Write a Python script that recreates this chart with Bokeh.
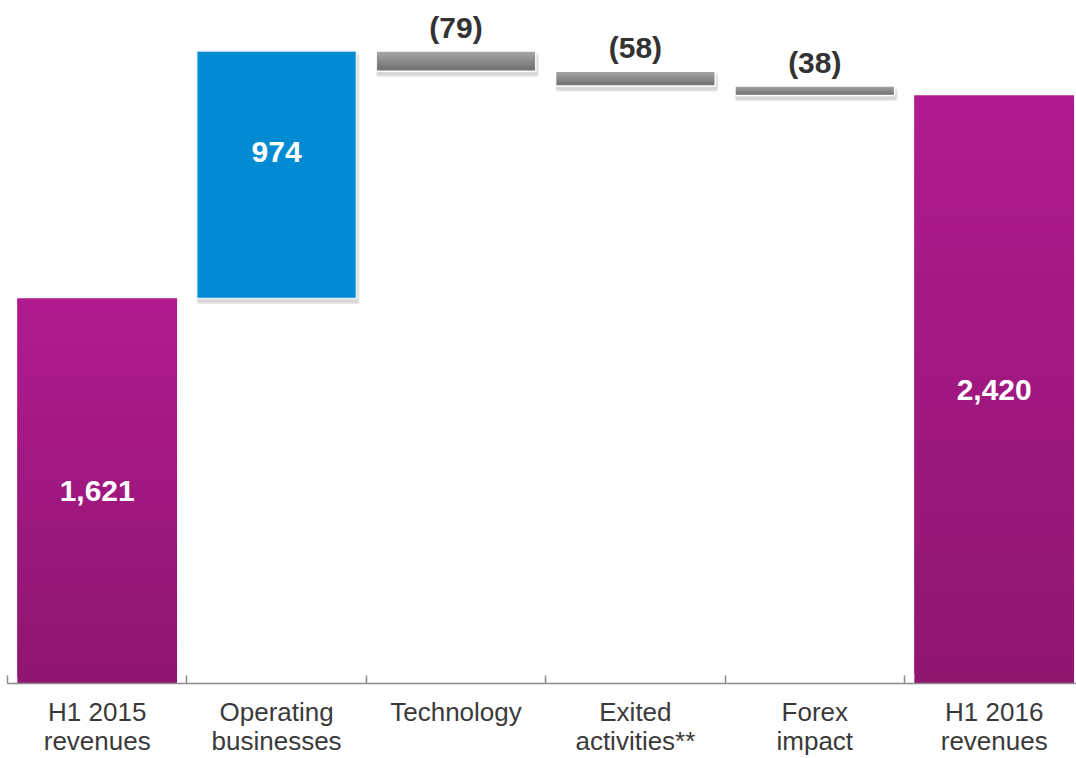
from bokeh.plotting import figure
from bokeh.models import ColumnDataSource, Range1d, FixedTicker
from bokeh.core.properties import value
from bokeh.embed import file_html
from bokeh.resources import INLINE

# ---- data ----
categories = ["H1 2015\nrevenues", "Operating\nbusinesses", "Technology",
              "Exited\nactivities**", "Forex\nimpact", "H1 2016\nrevenues"]
values = [1621, 974, -79, -58, -38, 2420]
kinds = ["total", "increase", "decrease", "decrease", "decrease", "total"]
value_labels = ["1,621", "974", "(79)", "(58)", "(38)", "2,420"]

Y_START, Y_END = 106, 2794
FRAME_H = 683
PX_PER_UNIT = FRAME_H / (Y_END - Y_START)

def hex2rgb(h):
    h = h.lstrip("#")
    return tuple(int(h[i:i + 2], 16) for i in (0, 2, 4))

def lerp(c1, c2, t):
    a, b = hex2rgb(c1), hex2rgb(c2)
    return "#%02x%02x%02x" % tuple(int(round(a[i] + (b[i] - a[i]) * t)) for i in range(3))

# running waterfall
bottoms, tops = [], []
running = 0
for v, k in zip(values, kinds):
    if k == "total":
        bottoms.append(0)
        tops.append(v)
        running = v
    else:
        lo, hi = sorted([running, running + v])
        bottoms.append(lo)
        tops.append(hi)
        running += v

centers = [i + 0.5 for i in range(len(categories))]
bar_w = 0.89

p = figure(width=1076, height=758, output_backend="svg", toolbar_location=None,
           x_range=Range1d(0, 1069 / 179.4), y_range=Range1d(Y_START, Y_END),
           min_border_left=7, min_border_right=0, min_border_top=0, min_border_bottom=758 - FRAME_H)
p.outline_line_color = None
p.xgrid.grid_line_color = None
p.ygrid.grid_line_color = None
p.yaxis.visible = False
p.background_fill_color = "white"
p.border_fill_color = "white"

shadow_dy = 4 / PX_PER_UNIT
shadow_dx = 0.008

# shadows for floating bars
sh = dict(left=[], right=[], top=[], bottom=[])
for c, b, t, k in zip(centers, bottoms, tops, kinds):
    if k != "total":
        sh["left"].append(c - bar_w / 2 + shadow_dx)
        sh["right"].append(c + bar_w / 2 + shadow_dx)
        sh["top"].append(t - shadow_dy)
        sh["bottom"].append(b - shadow_dy)
p.quad(source=ColumnDataSource(sh), left="left", right="right", top="top", bottom="bottom",
       fill_color="#bdbdbd", fill_alpha=0.6, line_color="#d5d5d5", line_width=3, line_alpha=0.6)

# gradient slices (overlapping so no seams show)
sl = dict(left=[], right=[], top=[], bottom=[], color=[])
for c, b, t, k in zip(centers, bottoms, tops, kinds):
    if k == "total":
        lo = max(b, Y_START)
        c_bot, c_top = "#901670", "#b01b8f"
        n = 60
    elif k == "decrease":
        lo = b
        c_bot, c_top = "#6c6c6c", "#a8a8a8"
        n = 12
    else:
        continue
    step = (t - lo) / n
    for j in range(n):
        sl["left"].append(c - bar_w / 2)
        sl["right"].append(c + bar_w / 2)
        sl["bottom"].append(lo + j * step)
        sl["top"].append(min(t, lo + (j + 2) * step))
        sl["color"].append(lerp(c_bot, c_top, (j + 0.5) / n))
p.quad(source=ColumnDataSource(sl), left="left", right="right", top="top", bottom="bottom",
       fill_color="color", line_color=None)

# blue increase bar
inc = dict(left=[], right=[], top=[], bottom=[])
for c, b, t, k in zip(centers, bottoms, tops, kinds):
    if k == "increase":
        inc["left"].append(c - bar_w / 2)
        inc["right"].append(c + bar_w / 2)
        inc["top"].append(t)
        inc["bottom"].append(b)
p.quad(source=ColumnDataSource(inc), left="left", right="right", top="top", bottom="bottom",
       fill_color="#008bd2", line_color="#e8f3fa", line_width=1.5)

# white borders for decrease bars
dec = dict(left=[], right=[], top=[], bottom=[])
for c, b, t, k in zip(centers, bottoms, tops, kinds):
    if k == "decrease":
        dec["left"].append(c - bar_w / 2)
        dec["right"].append(c + bar_w / 2)
        dec["top"].append(t)
        dec["bottom"].append(b)
p.quad(source=ColumnDataSource(dec), left="left", right="right", top="top", bottom="bottom",
       fill_color=None, line_color="white", line_width=1.5)

# value labels
inside = dict(x=[], y=[], text=[], yoff=[])
above = dict(x=[], y=[], text=[])
for c, b, t, k, lab in zip(centers, bottoms, tops, kinds, value_labels):
    if k == "decrease":
        above["x"].append(c)
        above["y"].append(t)
        above["text"].append(lab)
    else:
        lo = max(b, Y_START)
        inside["x"].append(c)
        inside["y"].append((lo + t) / 2)
        inside["text"].append(lab)
        inside["yoff"].append(-23 if k == "increase" else 0)
p.text(source=ColumnDataSource(inside), x="x", y="y", text="text", y_offset="yoff",
       text_font=value("Liberation Sans"), text_font_style="bold", text_font_size="30px",
       text_color="white", text_align="center", text_baseline="middle")
p.text(source=ColumnDataSource(above), x="x", y="y", text="text", y_offset=-7,
       text_font=value("Liberation Sans"), text_font_style="bold", text_font_size="30px",
       text_color="#333333", text_align="center", text_baseline="bottom")

# x axis: category labels, line and boundary ticks
boundaries = list(range(len(categories) + 1))
p.xaxis.ticker = FixedTicker(ticks=centers, minor_ticks=boundaries)
p.xaxis.major_label_overrides = {c: lab for c, lab in zip(centers, categories)}
p.xaxis.major_tick_line_color = None
p.xaxis.major_tick_in = 0
p.xaxis.major_tick_out = 0
p.xaxis.minor_tick_in = 8
p.xaxis.minor_tick_out = 0
p.xaxis.minor_tick_line_color = "#8c8c8c"
p.xaxis.minor_tick_line_width = 1.5
p.xaxis.axis_line_color = "#8c8c8c"
p.xaxis.axis_line_width = 1.5
p.xaxis.major_label_text_font = "Liberation Sans"
p.xaxis.major_label_text_font_size = "26px"
p.xaxis.major_label_text_color = "#3a3a3a"
p.xaxis.major_label_text_line_height = 0.97
p.xaxis.major_label_standoff = 13

open("out.html", "w").write(file_html(p, INLINE))
